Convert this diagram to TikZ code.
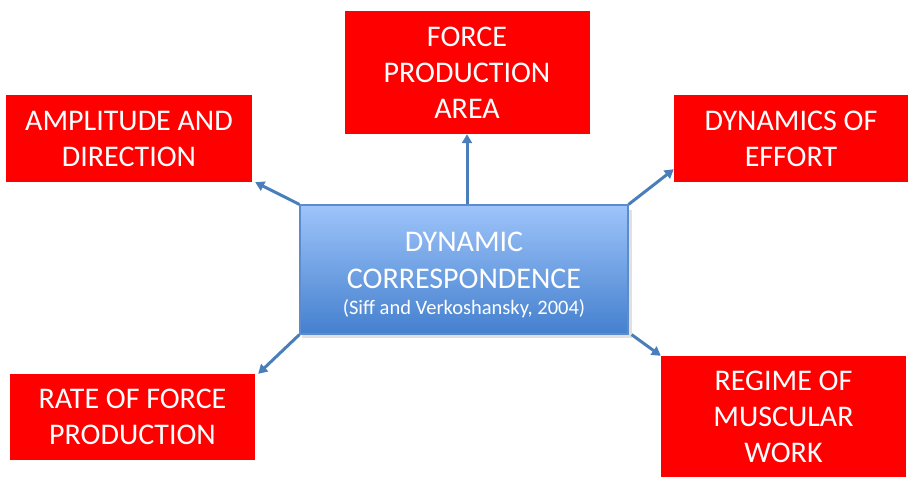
\documentclass[tikz,border=0pt]{standalone}
\usepackage{fontspec}
\setmainfont{Carlito}
\usetikzlibrary{arrows.meta}
\definecolor{boxred}{RGB}{255,0,0}
\definecolor{linkblue}{RGB}{74,126,187}
\definecolor{topblue}{RGB}{158,196,250}
\definecolor{botblue}{RGB}{68,128,206}
\definecolor{edgeblue}{RGB}{92,140,205}
\begin{document}
\begin{tikzpicture}[x=1pt,y=-1pt,
  redbox/.style={fill=boxred, text=white, inner sep=0pt, align=center,
    font=\fontsize{30}{36}\selectfont},
  hub/.style={draw=edgeblue, line width=1.2pt, top color=topblue, bottom color=botblue,
    inner sep=0pt},
  hubtext/.style={text=white, inner sep=0pt, align=center, font=\fontsize{30}{37}\selectfont},
  link/.style={draw=linkblue, line width=3pt, -{Triangle[length=9pt,width=10pt]}}]
\useasboundingbox (0,0) rectangle (909,477);

% outer concepts
\node[redbox, minimum width=245pt, minimum height=123pt] (area) at (467,72.5)
  {FORCE\\PRODUCTION\\AREA};
\node[redbox, minimum width=246pt, minimum height=87pt] (amp) at (129,138.5)
  {AMPLITUDE AND\\DIRECTION};
\node[redbox, minimum width=234pt, minimum height=87pt] (dyn) at (791,138.5)
  {DYNAMICS OF\\EFFORT};
\node[redbox, minimum width=245pt, minimum height=86pt] (rate) at (132.5,417)
  {RATE OF FORCE\\PRODUCTION};
\node[redbox, minimum width=245pt, minimum height=121pt] (reg) at (783.5,416.5)
  {REGIME OF\\MUSCULAR\\WORK};

% soft shadow under the central box
\fill[black, opacity=0.12] (302,210) rectangle (632,338);
% central concept
\node[hub, minimum width=328pt, minimum height=129pt] (hub) at (464,269.5) {};
\node[hubtext] (hublabel) at ([yshift=-5pt]hub.center)
  {DYNAMIC\\CORRESPONDENCE\\[-11pt]
   {\fontsize{20.5}{24}\selectfont (Siff and Verkoshansky, 2004)}};

% connectors
\draw[link] (hub.north -| area.south) -- (area.south);
\draw[link] (hub.north west) -- ([xshift=3pt]amp.south east);
\draw[link] (hub.north east) -- ([yshift=13pt]dyn.south west);
\draw[link] (hub.south west) -- ([xshift=3pt]rate.north east);
\draw[link] ([xshift=3pt]hub.south east) -- (reg.north west);
\end{tikzpicture}
\end{document}
